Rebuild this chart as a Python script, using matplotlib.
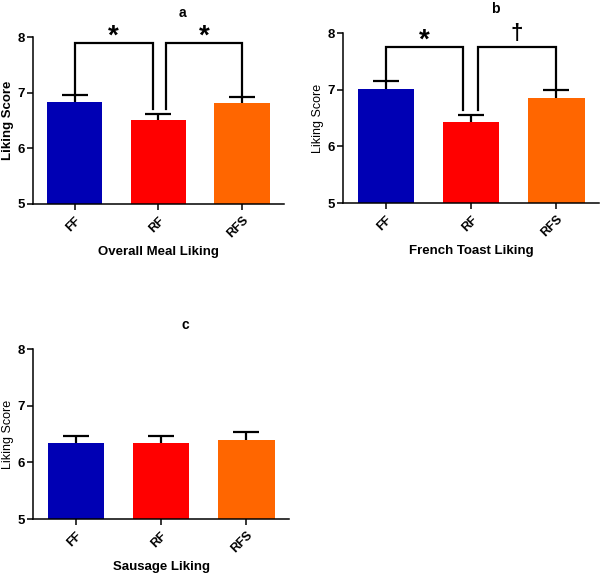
import matplotlib
matplotlib.use("Agg")
import matplotlib.pyplot as plt

plt.rcParams['font.family'] = ['Liberation Sans', 'DejaVu Sans']

groups = ["FF", "RF", "RFS"]
colors = ["#0000B4", "#FF0000", "#FF6600"]

# panel a - overall meal liking
means_a = [6.84, 6.51, 6.82]
err_a = [0.11, 0.11, 0.10]
# panel b - french toast liking
means_b = [7.01, 6.43, 6.85]
err_b = [0.14, 0.13, 0.14]
# panel c - sausage liking
means_c = [6.35, 6.35, 6.40]
err_c = [0.12, 0.12, 0.14]

# brackets: (left x, right x, top y, bottom left, bottom right, mark)
brackets_a = [(0, 0.93, 7.9, 6.95, 6.71, "*"), (1.09, 2, 7.9, 6.71, 6.92, "*")]
brackets_b = [(0, 0.91, 7.76, 7.15, 6.64, "*"), (1.08, 2, 7.76, 6.64, 6.99, "\u2020")]

titles = ["a", "b", "c"]
xlabels = ["Overall Meal Liking", "French Toast Liking", "Sausage Liking"]
ylabel_bold = [True, False, False]

fig = plt.figure(figsize=(6, 5.73), dpi=100)
positions = [[0.055, 0.644, 0.418, 0.2914],
             [0.5717, 0.6457, 0.4267, 0.2967],
             [0.055, 0.0942, 0.4267, 0.2967]]


def draw_panel(ax, means, errs, title, xlabel, bold_ylabel, brackets):
    x = range(len(groups))
    ax.bar(x, means, width=0.66, color=colors, zorder=2)
    # full error bar drawn behind the bar, so only the upper half shows
    ax.errorbar(x, means, yerr=errs, fmt="none",
                ecolor="black", elinewidth=1.6, capsize=9.5, capthick=1.6, zorder=1)
    ax.set_ylim(5, 8)
    ax.set_xlim(-0.5, 2.5)
    ax.set_yticks([5, 6, 7, 8])
    ax.set_yticklabels(["5", "6", "7", "8"], fontweight="bold", fontsize=9.5)
    ax.set_xticks(list(x))
    ax.set_xticklabels(groups, rotation=45, ha="right", rotation_mode="anchor",
                       fontweight="bold", fontsize=9)
    ax.tick_params(axis="both", direction="out", length=4.5, width=1.1)
    ax.tick_params(axis="y", pad=1.5)
    ax.tick_params(axis="x", pad=3)
    for s in ["top", "right"]:
        ax.spines[s].set_visible(False)
    for s in ["left", "bottom"]:
        ax.spines[s].set_linewidth(1.1)
    ax.spines["left"].set_bounds(5, 8)
    ax.set_ylabel("Liking Score", fontsize=9.5 if bold_ylabel else 9,
                  fontweight="bold" if bold_ylabel else "normal", labelpad=2)
    ax.set_xlabel(xlabel, fontsize=9.5, fontweight="bold", labelpad=4)
    ax.text(0.595, 1.1, title, transform=ax.transAxes, ha="center", va="bottom",
            fontsize=10, fontweight="bold")
    for x0, x1, top, b0, b1, mark in brackets:
        ax.plot([x0, x0, x1, x1], [b0, top, top, b1], color="black", lw=1.6,
                clip_on=False, zorder=4, solid_joinstyle="miter")
        if mark == "*":
            ax.text((x0 + x1) / 2, top - 0.13, mark, ha="center", va="bottom",
                    fontsize=20, fontweight="bold")
        else:
            ax.text((x0 + x1) / 2, top + 0.05, mark, ha="center", va="bottom",
                    fontsize=16, fontweight="bold")


data = [(means_a, err_a, brackets_a), (means_b, err_b, brackets_b), (means_c, err_c, [])]
for i, (m, e, br) in enumerate(data):
    ax = fig.add_axes(positions[i])
    draw_panel(ax, m, e, titles[i], xlabels[i], ylabel_bold[i], br)

fig.savefig("out.png", dpi=100)
